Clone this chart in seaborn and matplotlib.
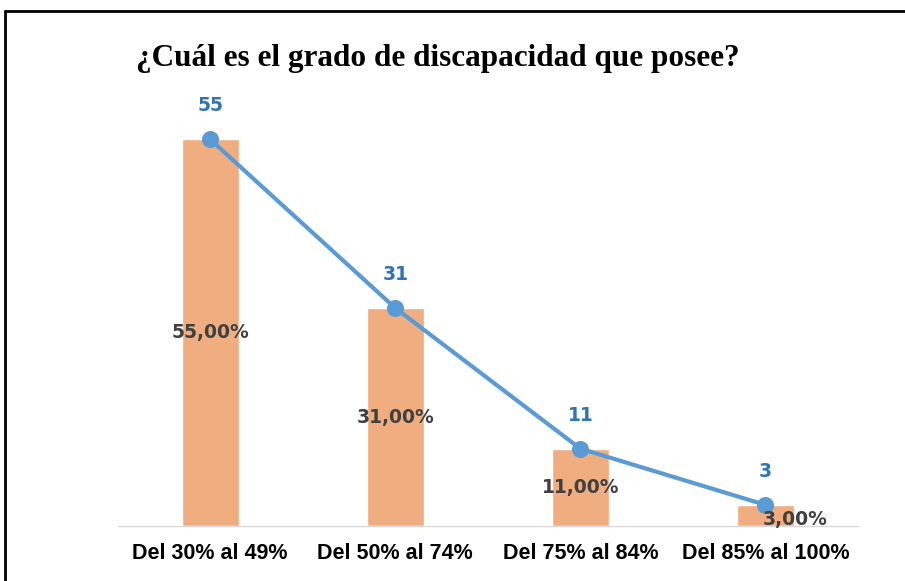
import numpy as np
import pandas as pd
import seaborn as sns
import matplotlib.pyplot as plt
from matplotlib.lines import Line2D

categorias = ["Del 30% al 49%", "Del 50% al 74%", "Del 75% al 84%", "Del 85% al 100%"]
frecuencia = [55, 31, 11, 3]
porcentaje = [55.0, 31.0, 11.0, 3.0]

df = pd.DataFrame({"grado": categorias, "n": frecuencia, "pct": porcentaje})

sns.set_style("white")
plt.rcParams['font.family'] = ['Liberation Sans', 'DejaVu Sans']

fig = plt.figure(figsize=(9.05, 5.81), dpi=100)
ax = fig.add_axes([0.130, 0.0947, 0.818, 0.726])

#bars
sns.barplot(data=df, x="grado", y="n", color="#F0AE80", saturation=1, width=0.31, ax=ax)
#line with markers
sns.pointplot(data=df, x="grado", y="n", color="#5B9BD5", markers="o",
              markersize=10, linewidth=3, ax=ax)

for i, row in df.iterrows():
    ax.annotate(str(row.n), (i, row.n), xytext=(0, 24), textcoords="offset points",
                ha="center", va="center", color="#2E75B6", fontsize=13.5, fontweight="bold",
                family="DejaVu Sans")
    lab = f"{row.pct:.2f}%".replace(".", ",")
    if i == 3:
        ax.text(i + 0.16, row.n / 2 - 0.6, lab, ha="center", va="center",
                color="#404040", fontsize=13.5, fontweight="bold", family="DejaVu Sans")
    else:
        ax.text(i, row.n / 2, lab, ha="center", va="center",
                color="#404040", fontsize=13.5, fontweight="bold", family="DejaVu Sans")

ax.set_xlim(-0.5, 3.5)
ax.set_ylim(0, 60)
ax.set_xlabel("")
ax.set_ylabel("")
ax.set_yticks([])
ax.tick_params(axis="x", length=0, pad=12, labelsize=15.5, labelcolor="black")
for t in ax.get_xticklabels():
    t.set_fontweight("bold")
for s in ["top", "right", "left"]:
    ax.spines[s].set_visible(False)
ax.spines["bottom"].set_color("#D9D9D9")
ax.spines["bottom"].set_linewidth(1)

fig.text(0.484, 0.9, "¿Cuál es el grado de discapacidad que posee?", ha="center", va="center",
         fontsize=22.5, fontweight="bold", color="black", family=["Liberation Serif", "DejaVu Serif"])

#frame (top and left edge only visible)
fig.add_artist(Line2D([0.006, 1.0], [0.981, 0.981], color="black", lw=2, transform=fig.transFigure))
fig.add_artist(Line2D([0.006, 0.006], [0.0, 0.981], color="black", lw=2, transform=fig.transFigure))

fig.savefig("out.png", dpi=100)
